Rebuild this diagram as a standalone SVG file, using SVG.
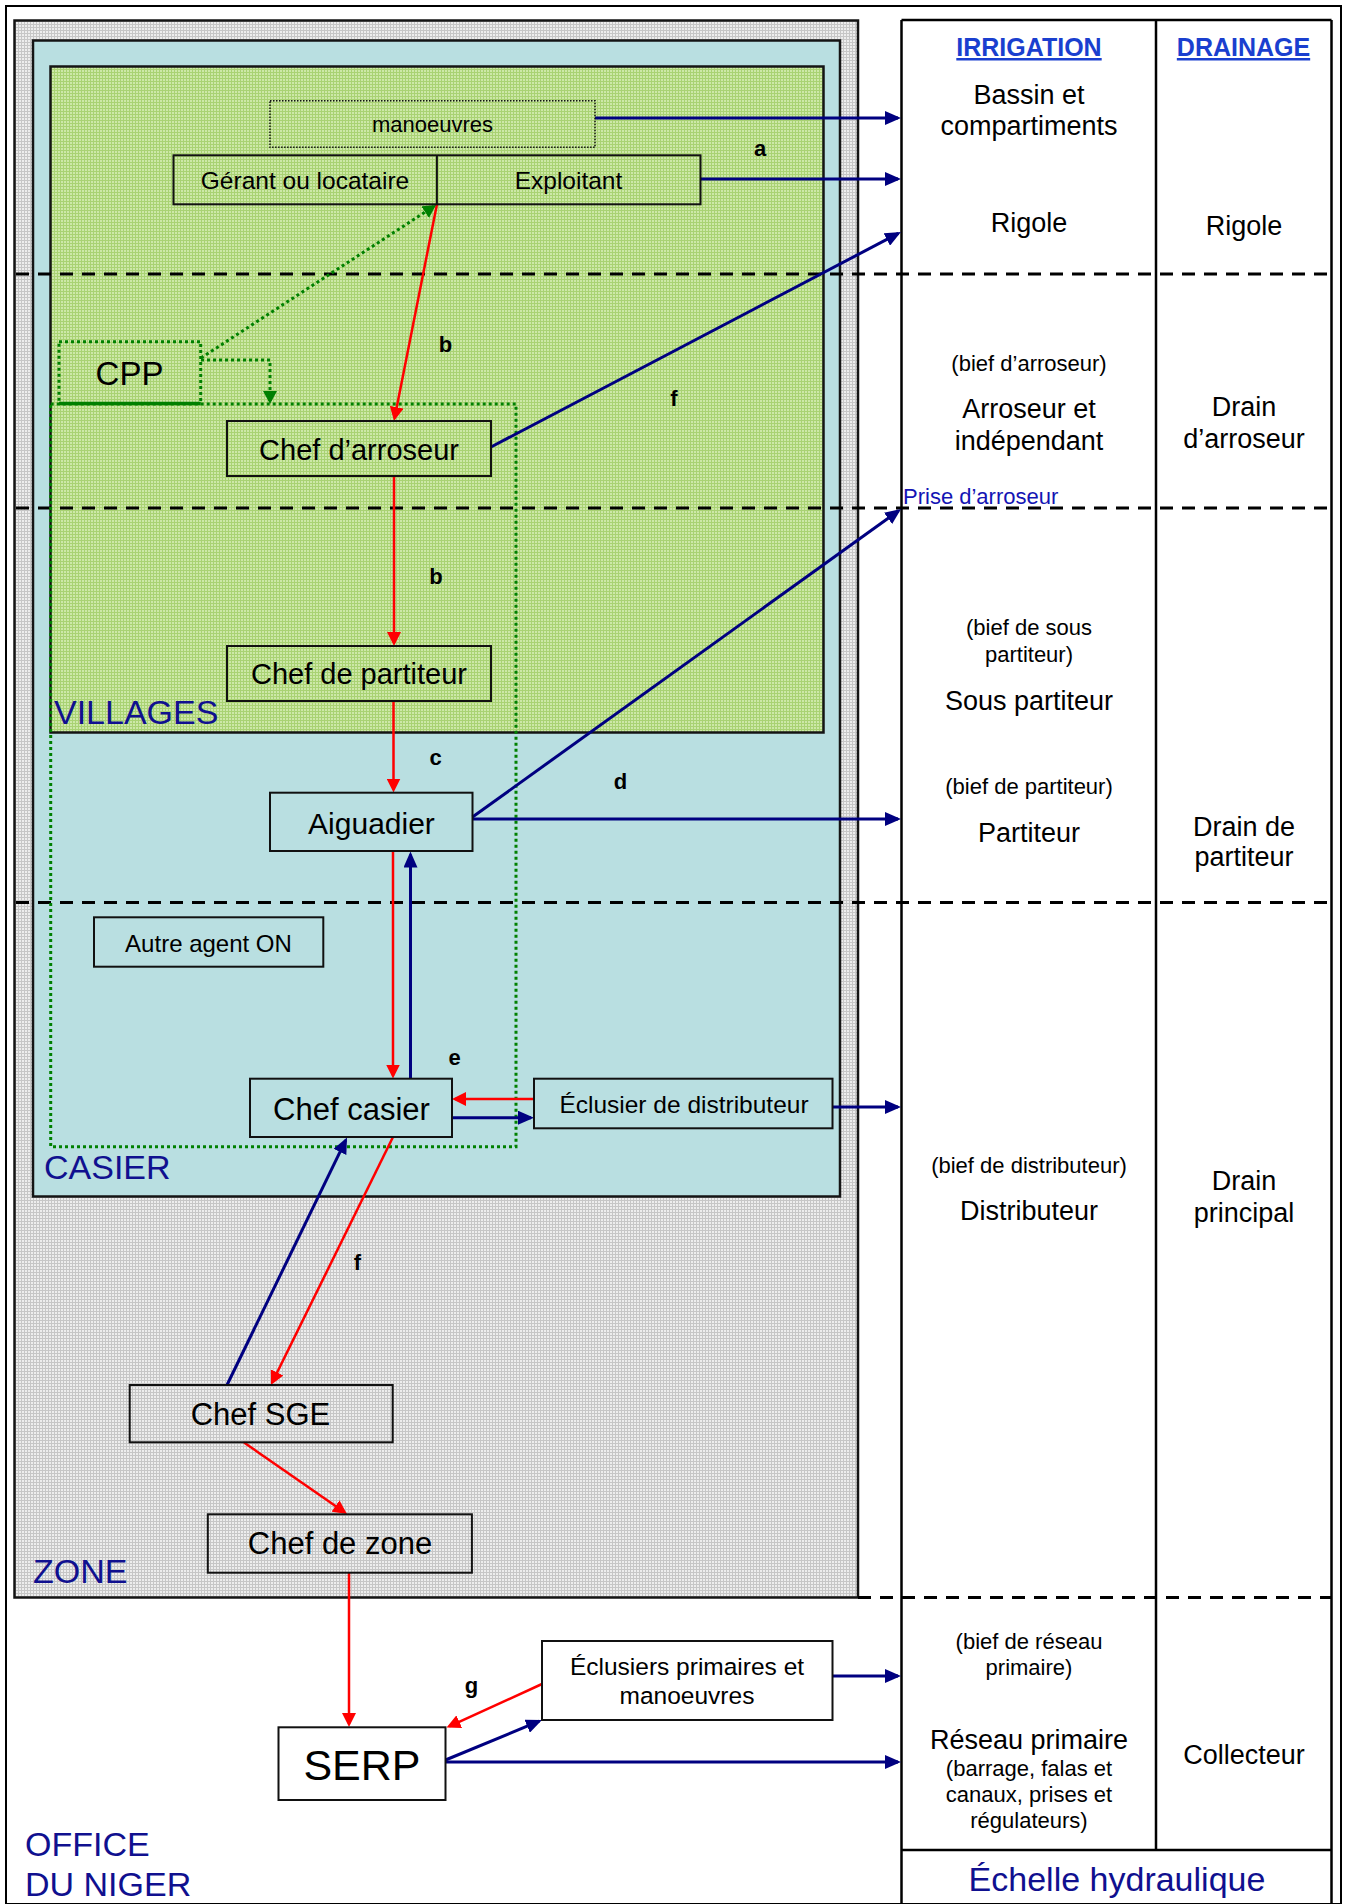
<svg xmlns="http://www.w3.org/2000/svg" width="1345" height="1904" viewBox="0 0 1345 1904">
  <defs>
    <style>
      .frame{fill:none;stroke:#000;stroke-width:2}
      .region{stroke:#141414;stroke-width:2.5}
      .box{fill:none;stroke:#111;stroke-width:2}
      .table{fill:none;stroke:#000;stroke-width:2.5}
      .level{fill:none;stroke:#000;stroke-width:3;stroke-dasharray:13 9}
      .blue{fill:none;stroke:#000080;stroke-width:3;marker-end:url(#ah-blue)}
      .red{fill:none;stroke:#ff0000;stroke-width:2.5;marker-end:url(#ah-red)}
      .green{fill:none;stroke:#008000;stroke-width:3;stroke-dasharray:3 3;marker-end:url(#ah-green)}
      .dotbox{fill:none;stroke:#008000;stroke-width:3;stroke-dasharray:3 3}
      text{font-family:"Liberation Sans",Arial,Helvetica,sans-serif;fill:#000}
      .c{text-anchor:middle}
      .n22{font-size:22px}
      .n24{font-size:24.5px}
      .n29{font-size:29px}
      .n31{font-size:31px}
      .tag{font-size:22px;font-weight:bold;text-anchor:middle}
      .area{font-size:34px;fill:#10108f}
      .col{font-size:27px;text-anchor:middle}
      .sub{font-size:22px;text-anchor:middle}
      .head{font-size:25px;font-weight:bold;text-anchor:middle;fill:#1a3fcf;text-decoration:underline}
    </style>
    <pattern id="pat-zone" width="3" height="3" patternUnits="userSpaceOnUse">
      <rect width="3" height="3" fill="#ededed"/>
      <rect width="3" height="1" fill="#c6c6c6"/>
      <rect width="1" height="3" fill="#c6c6c6"/>
    </pattern>
    <pattern id="pat-villages" width="3" height="3" patternUnits="userSpaceOnUse">
      <rect width="3" height="3" fill="#cde8a8"/>
      <rect width="3" height="1" fill="#a9d273"/>
      <rect width="1" height="3" fill="#a9d273"/>
    </pattern>
    <marker id="ah-blue" markerUnits="userSpaceOnUse" viewBox="0 0 16 14" markerWidth="16" markerHeight="14" refX="13" refY="7" orient="auto">
      <path d="M0,0 L16,7 L0,14 z" fill="#000080"/>
    </marker>
    <marker id="ah-red" markerUnits="userSpaceOnUse" viewBox="0 0 14 14" markerWidth="14" markerHeight="14" refX="11" refY="7" orient="auto">
      <path d="M0,0 L14,7 L0,14 z" fill="#ff0000"/>
    </marker>
    <marker id="ah-green" markerUnits="userSpaceOnUse" viewBox="0 0 13 14" markerWidth="13" markerHeight="14" refX="10" refY="7" orient="auto">
      <path d="M0,0 L13,7 L0,14 z" fill="#008000"/>
    </marker>
  </defs>

  <rect width="1345" height="1904" fill="#fff"/>

  <!-- nested organisational areas -->
  <g id="areas">
    <rect class="frame" x="6" y="6" width="1335" height="1898"/>
    <rect id="zone" class="region" x="14.5" y="20.5" width="843.5" height="1577" fill="url(#pat-zone)"/>
    <rect id="casier" class="region" x="33" y="40.5" width="807" height="1156" fill="#b9dfe1"/>
    <rect id="villages" class="region" x="50.5" y="66.5" width="773" height="666" fill="url(#pat-villages)"/>
    <text class="area" x="54" y="724">VILLAGES</text>
    <text class="area" x="44" y="1179">CASIER</text>
    <text class="area" x="33" y="1583">ZONE</text>
    <text class="area" x="25" y="1856">OFFICE</text>
    <text class="area" x="25" y="1896">DU NIGER</text>
  </g>

  <!-- hydraulic scale table -->
  <g id="scale-table">
    <path class="table" d="M901.5,20 H1331.5 M901.5,20 V1904 M1331.5,20 V1904 M1156,20 V1850 M901.5,1850 H1331.5"/>
    <text class="head" x="1029" y="56">IRRIGATION</text>
    <text class="head" x="1243.5" y="56">DRAINAGE</text>

    <text class="col" x="1029" y="103.5">Bassin et</text>
    <text class="col" x="1029" y="134.5">compartiments</text>
    <text class="col" x="1029" y="232">Rigole</text>
    <text class="col" x="1244" y="235">Rigole</text>

    <text class="sub" x="1029" y="370.5">(bief d’arroseur)</text>
    <text class="col" x="1029" y="417.5">Arroseur et</text>
    <text class="col" x="1029" y="449.5">indépendant</text>
    <text class="col" x="1244" y="416">Drain</text>
    <text class="col" x="1244" y="447.5">d’arroseur</text>

    <text x="903" y="503.5" font-size="22" fill="#1414b4" style="fill:#1414b4">Prise d’arroseur</text>

    <text class="sub" x="1029" y="635">(bief de sous</text>
    <text class="sub" x="1029" y="661.5">partiteur)</text>
    <text class="col" x="1029" y="710">Sous partiteur</text>
    <text class="sub" x="1029" y="794">(bief de partiteur)</text>
    <text class="col" x="1029" y="841.5">Partiteur</text>
    <text class="col" x="1244" y="836">Drain de</text>
    <text class="col" x="1244" y="866">partiteur</text>

    <text class="sub" x="1029" y="1172.5">(bief de distributeur)</text>
    <text class="col" x="1029" y="1220">Distributeur</text>
    <text class="col" x="1244" y="1190">Drain</text>
    <text class="col" x="1244" y="1221.5">principal</text>

    <text class="sub" x="1029" y="1648.5">(bief de réseau</text>
    <text class="sub" x="1029" y="1675">primaire)</text>
    <text class="col" x="1029" y="1748.5">Réseau primaire</text>
    <text class="sub" x="1029" y="1776">(barrage, falas et</text>
    <text class="sub" x="1029" y="1802">canaux, prises et</text>
    <text class="sub" x="1029" y="1828">régulateurs)</text>
    <text class="col" x="1244" y="1763.5">Collecteur</text>

    <text class="area c" x="1117" y="1891">Échelle hydraulique</text>
  </g>

  <!-- level boundaries -->
  <g id="levels">
    <line class="level" x1="16" y1="274" x2="1331" y2="274"/>
    <line class="level" x1="16" y1="508" x2="1331" y2="508"/>
    <line class="level" x1="16" y1="902.5" x2="1331" y2="902.5"/>
    <line class="level" x1="858" y1="1597.5" x2="1331" y2="1597.5"/>
  </g>

  <!-- CPP scope (dotted green outline) -->
  <g id="cpp-scope">
    <rect class="dotbox" x="50.7" y="404" width="465.3" height="742.7"/>
  </g>

  <!-- connectors -->
  <g id="connectors">
    <!-- to the hydraulic scale -->
    <line class="blue" x1="595" y1="118" x2="898" y2="118"/>
    <line class="blue" x1="700.5" y1="179" x2="898" y2="179"/>
    <line class="blue" x1="491" y1="447" x2="898.3" y2="233.4"/>
    <line class="blue" x1="472.5" y1="817" x2="898.6" y2="510.8"/>
    <line class="blue" x1="472.5" y1="819" x2="898" y2="819"/>
    <line class="blue" x1="832.5" y1="1107" x2="898" y2="1107"/>
    <line class="blue" x1="832.5" y1="1676" x2="898" y2="1676"/>
    <line class="blue" x1="445.5" y1="1762" x2="898" y2="1762"/>
    <!-- reporting upwards -->
    <line class="blue" x1="410.5" y1="1078.7" x2="410.5" y2="854.5"/>
    <line class="blue" x1="452" y1="1117.7" x2="531" y2="1117.7"/>
    <line class="blue" x1="227" y1="1385" x2="345.7" y2="1140.2"/>
    <line class="blue" x1="445.5" y1="1760" x2="539.2" y2="1721.2"/>

    <!-- instructions downwards -->
    <line class="red" x1="436.9" y1="204.5" x2="394.6" y2="418"/>
    <line class="red" x1="394" y1="476" x2="394" y2="643"/>
    <line class="red" x1="393.5" y1="701" x2="393.5" y2="789.5"/>
    <line class="red" x1="393" y1="851" x2="393" y2="1075.5"/>
    <line class="red" x1="534" y1="1099" x2="455" y2="1099"/>
    <line class="red" x1="393" y1="1137" x2="272.3" y2="1382.3"/>
    <line class="red" x1="244" y1="1442.5" x2="344.5" y2="1512.3"/>
    <line class="red" x1="349" y1="1573" x2="349" y2="1724"/>
    <line class="red" x1="542" y1="1684" x2="449.3" y2="1726.3"/>

    <!-- CPP influence -->
    <line class="green" x1="201" y1="358" x2="433.5" y2="206.6"/>
    <path class="green" d="M201,360 H270 V401"/>
  </g>

  <!-- nodes -->
  <g id="node-manoeuvres">
    <rect x="270" y="100.7" width="325" height="46.6" fill="none" stroke="#111" stroke-width="1.5" stroke-dasharray="1.5 1.5"/>
    <text class="c n22" x="432.5" y="131.5">manoeuvres</text>
  </g>
  <g id="node-gerant-exploitant">
    <rect class="box" x="173.5" y="155.3" width="527" height="49"/>
    <line class="box" x1="436.9" y1="155.3" x2="436.9" y2="204.3"/>
    <text class="c n24" x="305" y="189">Gérant ou locataire</text>
    <text class="c n24" x="568.5" y="189">Exploitant</text>
  </g>
  <g id="node-cpp">
    <rect class="dotbox" x="59" y="341.7" width="141.7" height="61.8"/>
    <line x1="59" y1="403.5" x2="200.7" y2="403.5" stroke="#008000" stroke-width="3.5"/>
    <text class="c" x="129.5" y="385" font-size="33">CPP</text>
  </g>
  <g id="node-chef-arroseur">
    <rect class="box" x="227" y="421" width="264" height="55"/>
    <text class="c n29" x="359" y="460">Chef d’arroseur</text>
  </g>
  <g id="node-chef-partiteur">
    <rect class="box" x="227" y="646" width="264" height="55"/>
    <text class="c n29" x="359" y="683.5">Chef de partiteur</text>
  </g>
  <g id="node-aiguadier">
    <rect class="box" x="270" y="792.7" width="202.5" height="58.3"/>
    <text class="c" x="371.5" y="833.5" font-size="30">Aiguadier</text>
  </g>
  <g id="node-autre-agent">
    <rect class="box" x="94" y="917.3" width="229.3" height="49.4"/>
    <text class="c" x="208.5" y="951.5" font-size="24">Autre agent ON</text>
  </g>
  <g id="node-chef-casier">
    <rect class="box" x="250" y="1078.7" width="202" height="58.3"/>
    <text class="c n31" x="351.5" y="1120">Chef casier</text>
  </g>
  <g id="node-eclusier-distributeur">
    <rect class="box" x="534" y="1078.7" width="298.5" height="49.6"/>
    <text class="c n24" x="684" y="1112.5">Éclusier de distributeur</text>
  </g>
  <g id="node-chef-sge">
    <rect class="box" x="129.7" y="1385" width="263" height="57.3"/>
    <text class="c n31" x="260.5" y="1425">Chef SGE</text>
  </g>
  <g id="node-chef-zone">
    <rect class="box" x="207.8" y="1514.3" width="264.1" height="58.4"/>
    <text class="c n31" x="340" y="1554">Chef de zone</text>
  </g>
  <g id="node-eclusiers-primaires">
    <rect class="box" x="542" y="1641" width="290.5" height="79"/>
    <text class="c n24" x="687" y="1675">Éclusiers primaires et</text>
    <text class="c n24" x="687" y="1703.5">manoeuvres</text>
  </g>
  <g id="node-serp">
    <rect class="box" x="278.5" y="1727.3" width="167" height="72.7" style="fill:#fff"/>
    <text class="c" x="362" y="1780" font-size="43">SERP</text>
  </g>

  <!-- flow letters -->
  <g id="flow-tags">
    <text class="tag" x="760" y="156">a</text>
    <text class="tag" x="445.5" y="352">b</text>
    <text class="tag" x="674" y="406">f</text>
    <text class="tag" x="436" y="583.5">b</text>
    <text class="tag" x="435.5" y="765">c</text>
    <text class="tag" x="620.5" y="788.5">d</text>
    <text class="tag" x="454.5" y="1065">e</text>
    <text class="tag" x="357.5" y="1269.5">f</text>
    <text class="tag" x="471.5" y="1693">g</text>
  </g>
</svg>
